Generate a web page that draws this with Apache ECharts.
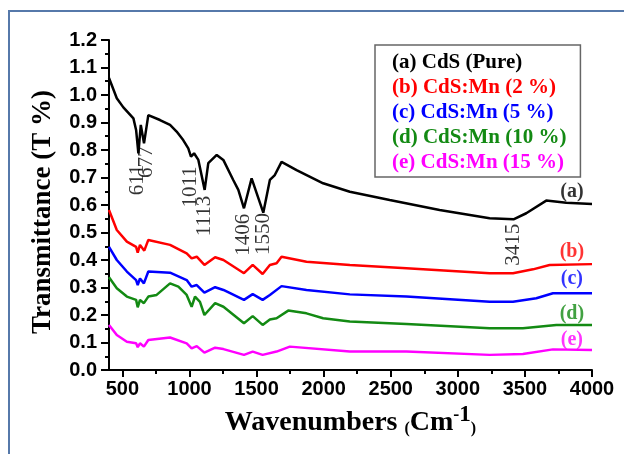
<!DOCTYPE html>
<html>
<head>
<meta charset="utf-8">
<script src="https://cdn.jsdelivr.net/npm/echarts@6/dist/echarts.min.js"></script>
<style>
html, body { margin: 0; padding: 0; background: #fff; }
#chart { width: 624px; height: 454px; }
</style>
</head>
<body>
<div id="chart"></div>
<script>
// FTIR spectra, wavenumber (cm-1) vs transmittance
var waveA = [400,458,507,582,602,619,637,661,693,780,855,904,953,991,1011,1034,1066,1113,1140,1203,1252,1326,1364,1406,1463,1550,1599,1636,1686,1798,1996,2195,2492,2864,3237,3415,3510,3659,3808,4000];
var transA = [1.062,0.988,0.955,0.915,0.873,0.788,0.891,0.824,0.927,0.909,0.891,0.867,0.836,0.806,0.776,0.788,0.764,0.655,0.752,0.782,0.764,0.691,0.655,0.588,0.697,0.572,0.691,0.709,0.757,0.727,0.679,0.648,0.618,0.582,0.552,0.548,0.570,0.616,0.608,0.604];

var waveB = [400,458,533,602,614,631,663,693,855,979,1016,1054,1111,1191,1253,1406,1471,1545,1599,1649,1686,1872,2195,2617,3237,3411,3560,3684,4000];
var transB = [0.582,0.509,0.467,0.448,0.427,0.455,0.434,0.473,0.455,0.424,0.406,0.412,0.382,0.410,0.400,0.352,0.382,0.349,0.382,0.388,0.412,0.394,0.382,0.370,0.352,0.352,0.366,0.382,0.385];

var waveC = [400,458,533,602,614,631,660,693,855,979,1016,1054,1111,1191,1253,1406,1471,1545,1599,1686,1872,2195,2617,3237,3411,3585,3709,4000];
var transC = [0.448,0.400,0.358,0.327,0.309,0.333,0.315,0.358,0.354,0.327,0.303,0.309,0.281,0.301,0.291,0.255,0.276,0.255,0.273,0.305,0.291,0.275,0.267,0.248,0.248,0.261,0.279,0.279];

var waveD = [400,458,533,602,614,631,660,693,755,855,917,979,1016,1041,1078,1111,1191,1253,1406,1471,1545,1599,1649,1736,1872,1996,2195,2617,3237,3485,3734,4000];
var transD = [0.337,0.297,0.267,0.255,0.228,0.255,0.243,0.267,0.273,0.315,0.303,0.273,0.230,0.267,0.248,0.200,0.243,0.230,0.170,0.196,0.164,0.184,0.188,0.216,0.206,0.188,0.176,0.167,0.152,0.152,0.164,0.164];

var waveE = [400,458,533,602,614,631,660,693,855,979,1016,1054,1111,1191,1253,1406,1471,1545,1649,1748,2195,2617,3237,3485,3709,4000];
var transE = [0.164,0.127,0.103,0.097,0.083,0.097,0.085,0.109,0.118,0.097,0.079,0.087,0.063,0.081,0.076,0.055,0.067,0.055,0.067,0.085,0.067,0.067,0.055,0.058,0.075,0.073];

var seriesNames = ['(a) CdS (Pure)', '(b) CdS:Mn (2 %)', '(c) CdS:Mn (5 %)', '(d) CdS:Mn (10 %)', '(e) CdS:Mn (15 %)'];
var seriesColors = ['#000000', '#ff0000', '#0000ff', '#138a13', '#ff00ff'];

// marked bands on curve (a)
var peakWaves = [611, 677, 1011, 1113, 1406, 1550, 3415];
var peakTextAt = [0.720, 0.730, 0.680, 0.560, 0.492, 0.480, 0.445];

// curve tags at the right end
var tagNames = ['(a)', '(b)', '(c)', '(d)', '(e)'];
var tagLevels = [0.647, 0.430, 0.330, 0.206, 0.108];
var tagWave = 3850;

var xLabels = [500, 1000, 1500, 2000, 2500, 3000, 3500, 4000];
var xMinor = [750, 1250, 1750, 2250, 2750, 3250, 3750];

function zip(xs, ys) {
    var out = [];
    for (var i = 0; i < xs.length; i++) out.push([xs[i], ys[i]]);
    return out;
}

var myChart = echarts.init(document.getElementById('chart'));

var waves = [waveA, waveB, waveC, waveD, waveE];
var trans = [transA, transB, transC, transD, transE];
var series = [];
for (var i = 0; i < 5; i++) {
    series.push({
        name: seriesNames[i],
        type: 'line',
        data: zip(waves[i], trans[i]),
        showSymbol: false,
        symbol: 'none',
        color: seriesColors[i],
        lineStyle: { width: 2.5, color: seriesColors[i] },
        z: 10 - i
    });
}

var peakOffsets = [-8, 7, -4, 0, 0, 4, 3];
series.push({
    type: 'scatter',
    silent: true,
    symbolSize: 0,
    data: peakWaves.map(function (w, k) {
        return {
            value: [w, peakTextAt[k]],
            label: { offset: [peakOffsets[k], 0] }
        };
    }),
    label: {
        show: true,
        position: 'inside',
        rotate: 90,
        formatter: function (p) { return String(p.value[0]); },
        fontFamily: 'Liberation Serif',
        fontSize: 21,
        color: '#000'
    },
    z: 20
});

series.push({
    type: 'scatter',
    silent: true,
    symbolSize: 0,
    data: tagNames.map(function (t, k) {
        return {
            value: [tagWave, tagLevels[k]],
            name: t,
            label: { color: seriesColors[k] }
        };
    }),
    label: {
        show: true,
        position: 'inside',
        formatter: '{b}',
        fontFamily: 'Liberation Serif',
        fontWeight: 'bold',
        fontSize: 20
    },
    z: 20
});

var option = {
    animation: false,
    backgroundColor: '#fff',
    grid: { left: 109, right: 32, top: 40, bottom: 84 },
    graphic: [{
        type: 'rect',
        shape: { x: 9, y: 11, width: 700, height: 600 },
        style: { fill: 'none', stroke: '#5679aa', lineWidth: 2 },
        silent: true
    }],
    legend: {
        orient: 'vertical',
        left: 375,
        top: 45,
        icon: 'none',
        itemWidth: 0,
        itemHeight: 10,
        itemGap: 3,
        padding: [7, 14, 3, 12],
        borderColor: '#666',
        borderWidth: 1.5,
        backgroundColor: '#fff',
        selectedMode: false,
        textStyle: {
            fontFamily: 'Liberation Serif',
            fontWeight: 'bold',
            fontSize: 21,
            lineHeight: 22
        },
        data: seriesNames.map(function (n, k) {
            return { name: n, textStyle: { color: seriesColors[k] } };
        })
    },
    xAxis: [{
        type: 'value',
        min: 400,
        max: 4000,
        name: 'Wavenumbers {p|(}Cm{s|-}{o|1}{p|)}',
        nameLocation: 'middle',
        nameGap: 34,
        nameTextStyle: {
            fontFamily: 'Liberation Serif',
            fontWeight: 'bold',
            fontSize: 28,
            color: '#000',
            rich: {
                p: { fontFamily: 'Liberation Serif', fontWeight: 'bold', fontSize: 16, padding: [12, 0, 0, 0] },
                s: { fontFamily: 'Liberation Serif', fontWeight: 'bold', fontSize: 18, padding: [0, 0, 15, 0] },
                o: { fontFamily: 'Liberation Serif', fontWeight: 'bold', fontSize: 23, padding: [0, 0, 15, 0] }
            }
        },
        splitLine: { show: false },
        axisLine: { lineStyle: { color: '#000', width: 2 } },
        axisTick: {
            show: true,
            customValues: xLabels,
            length: 7,
            lineStyle: { color: '#000', width: 2 }
        },
        axisLabel: {
            customValues: xLabels,
            margin: 9,
            fontFamily: 'Liberation Sans',
            fontWeight: 'bold',
            fontSize: 20,
            color: '#000',
            formatter: function (v) { return String(v); }
        }
    }, {
        type: 'value',
        min: 400,
        max: 4000,
        position: 'bottom',
        axisLine: { show: false },
        splitLine: { show: false },
        axisLabel: { show: false },
        axisTick: {
            show: true,
            customValues: xMinor,
            length: 4,
            lineStyle: { color: '#000', width: 2 }
        }
    }],
    yAxis: {
        type: 'value',
        min: 0,
        max: 1.2,
        interval: 0.1,
        name: 'Transmittance (T %)',
        nameLocation: 'middle',
        nameRotate: 90,
        nameGap: 52,
        nameTextStyle: {
            fontFamily: 'Liberation Serif',
            fontWeight: 'bold',
            fontSize: 27,
            color: '#000',
            padding: [0, 14, 0, 0]
        },
        splitLine: { show: false },
        axisLine: { show: true, lineStyle: { color: '#000', width: 2 } },
        axisTick: { show: true, length: 8, lineStyle: { color: '#000', width: 2 } },
        minorTick: { show: true, splitNumber: 2, length: 4, lineStyle: { color: '#000', width: 2 } },
        axisLabel: {
            margin: 12,
            fontFamily: 'Liberation Sans',
            fontWeight: 'bold',
            fontSize: 20,
            color: '#000',
            formatter: function (v) { return v.toFixed(1); }
        }
    },
    series: series
};

myChart.setOption(option);
</script>
</body>
</html>
